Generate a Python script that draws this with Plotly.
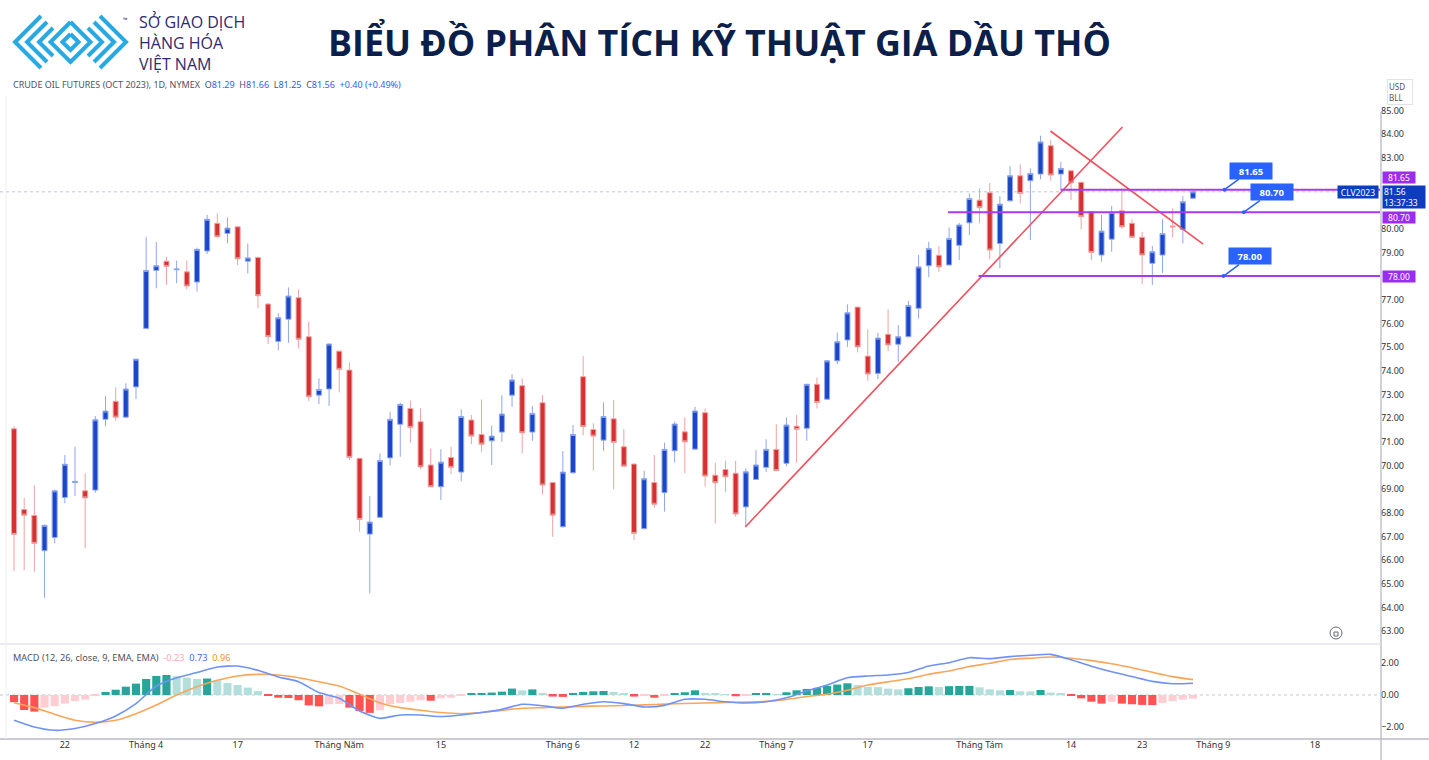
import plotly.graph_objects as go

W, H = 1429, 760

# ---------------- data ----------------
opens = [71.55, 68.14, 67.89, 66.40, 66.96, 68.65, 69.28, 68.93, 68.96, 71.95,
         72.71, 72.04, 73.32, 75.79, 78.24, 78.63, 78.27, 78.18, 77.75, 79.06,
         80.23, 79.80, 80.08, 78.63, 78.79, 76.82, 75.24, 76.18, 77.09, 75.44,
         72.97, 73.23, 74.83, 74.03, 70.30, 67.10, 67.81, 70.32, 71.74, 72.41,
         71.85, 70.02, 69.10, 70.34, 69.72, 71.92, 71.31, 71.04, 71.41, 72.97,
         73.37, 71.41, 72.65, 69.28, 67.41, 69.69, 73.75, 71.52, 71.07, 71.97,
         70.79, 70.06, 67.33, 69.28, 68.85, 70.62, 71.42, 70.69, 72.23, 69.59,
         69.83, 69.67, 68.25, 69.41, 69.92, 70.68, 70.09, 71.66, 71.57, 73.43,
         72.80, 74.42, 75.30, 76.69, 74.62, 73.89, 75.54, 75.12, 75.44, 76.64,
         78.44, 78.88, 78.47, 79.30, 80.25, 81.21, 81.52, 79.38, 81.18, 82.24,
         82.03, 82.31, 83.51, 82.31, 82.45, 81.96, 80.72, 78.89, 79.56, 80.76,
         80.23, 79.64, 78.54, 78.89, 80.12, 79.97, 81.29]
highs = [71.66, 68.63, 69.17, 67.50, 68.98, 70.44, 70.79, 69.67, 72.09, 72.93,
         73.30, 73.47, 74.50, 79.66, 79.44, 78.82, 78.66, 78.66, 79.20, 80.59,
         80.65, 80.48, 80.10, 79.38, 78.82, 76.85, 76.43, 77.52, 77.44, 76.07,
         73.68, 75.16, 74.85, 74.35, 70.32, 68.71, 70.51, 72.27, 72.65, 72.73,
         72.41, 70.72, 70.68, 70.79, 72.37, 72.14, 72.79, 71.69, 72.97, 73.86,
         73.68, 72.51, 72.97, 69.30, 70.61, 71.71, 74.62, 71.78, 72.67, 72.76,
         71.54, 70.08, 69.78, 70.44, 70.96, 71.86, 72.03, 72.48, 72.41, 70.11,
         70.20, 70.20, 69.88, 70.65, 71.10, 71.75, 72.03, 72.13, 73.45, 73.72,
         74.45, 75.61, 76.81, 76.70, 75.75, 75.61, 76.59, 75.93, 76.96, 78.89,
         79.45, 79.27, 80.06, 80.25, 81.49, 81.71, 81.94, 81.38, 82.65, 82.72,
         82.55, 83.93, 83.75, 82.83, 82.47, 82.00, 80.75, 80.58, 80.96, 81.71,
         80.40, 79.87, 79.27, 80.40, 80.86, 81.38, 81.66]
lows = [65.54, 65.58, 65.51, 64.41, 66.71, 68.40, 68.71, 66.50, 68.85, 71.66,
        71.89, 72.00, 72.80, 75.75, 77.49, 77.63, 77.70, 77.44, 77.34, 78.93,
        79.64, 79.38, 78.47, 78.11, 76.64, 75.13, 74.87, 75.18, 74.95, 72.72,
        72.59, 72.51, 73.09, 70.23, 67.20, 64.60, 67.78, 70.00, 70.37, 70.96,
        69.83, 69.08, 68.54, 69.64, 69.33, 70.90, 70.57, 70.02, 71.00, 72.48,
        70.51, 71.04, 68.79, 66.99, 67.38, 69.65, 71.27, 69.78, 70.62, 69.00,
        69.95, 66.85, 67.30, 68.21, 68.05, 70.13, 69.67, 70.67, 69.10, 67.55,
        68.89, 67.84, 67.41, 69.40, 69.73, 69.77, 69.97, 70.11, 71.04, 72.41,
        72.76, 74.28, 75.01, 74.78, 73.58, 73.64, 74.83, 74.38, 75.42, 76.20,
        77.95, 78.18, 78.45, 78.68, 79.73, 80.23, 78.71, 78.33, 81.15, 81.07,
        79.52, 82.09, 82.03, 81.63, 81.21, 79.97, 78.68, 78.61, 79.03, 80.00,
        79.60, 77.66, 77.62, 78.14, 79.64, 79.38, 81.25]
closes = [67.09, 67.90, 66.71, 67.47, 68.93, 70.05, 69.33, 68.63, 71.93, 72.30,
          72.04, 73.23, 74.49, 78.24, 78.44, 78.41, 78.30, 77.58, 79.13, 80.40,
          79.66, 80.03, 78.73, 78.77, 77.17, 75.44, 76.24, 77.16, 75.33, 72.90,
          73.21, 75.13, 74.06, 70.34, 67.72, 67.61, 70.21, 71.95, 72.58, 71.61,
          69.94, 69.10, 70.14, 69.92, 72.07, 71.24, 70.90, 71.24, 72.17, 73.61,
          71.38, 72.20, 69.17, 67.90, 69.72, 71.31, 71.64, 71.24, 72.07, 70.97,
          69.97, 67.13, 69.44, 68.36, 70.68, 71.75, 71.00, 72.30, 69.55, 69.27,
          69.52, 67.95, 69.73, 70.02, 70.68, 69.78, 71.71, 71.52, 73.43, 72.66,
          74.42, 75.23, 76.45, 75.01, 73.86, 75.38, 75.09, 75.44, 76.76, 78.39,
          79.17, 78.39, 79.59, 80.16, 81.28, 80.89, 79.10, 81.04, 82.24, 81.49,
          82.34, 83.67, 82.27, 82.55, 81.94, 80.51, 79.00, 79.90, 80.69, 80.08,
          79.64, 78.89, 79.03, 79.80, 80.08, 81.14, 81.56]

bar_index = list(range(len(closes)))

tick_idx = [5, 13, 22, 32, 42, 54, 61, 68, 75, 84, 95, 104, 111, 118, 128]
tick_lbl = ["22", "Tháng 4", "17", "Tháng Năm", "15", "Tháng 6", "12", "22",
            "Tháng 7", "17", "Tháng Tám", "14", "23", "Tháng 9", "18"]

macd_hist = [-0.45, -0.94, -1.04, -0.79, -0.69, -0.54, -0.38, -0.29, -0.05,
             0.19, 0.33, 0.52, 0.71, 1.00, 1.19, 1.25, 1.17, 1.08, 1.00, 1.03,
             0.92, 0.75, 0.62, 0.46, 0.25,
             -0.05, -0.17, -0.19, -0.33, -0.65, -0.71, -0.58, -0.56, -0.79, -1.00,
             -1.12, -0.96, -0.58, -0.50, -0.42, -0.33, -0.36, -0.21, -0.17, -0.06,
             0.08, 0.10, 0.15, 0.21, 0.40, 0.29, 0.35, 0.12, -0.10, -0.12, 0.08,
             0.19, 0.23,
             0.25, 0.19, 0.10, -0.10, -0.05, -0.17, -0.03, 0.12, 0.17, 0.29, 0.12,
             0.08, 0.06, -0.08, -0.04,
             0.08, 0.10, 0.06, 0.17, 0.29, 0.38, 0.44, 0.56, 0.65, 0.73,
             0.62, 0.50, 0.49, 0.40, 0.35,
             0.42, 0.50, 0.54,
             0.50, 0.55, 0.56, 0.57,
             0.48, 0.35, 0.29, 0.31, 0.23, 0.22, 0.31, 0.15, 0.08,
             -0.04, -0.21, -0.42, -0.54, -0.42, -0.54, -0.58, -0.62, -0.63, -0.50,
             -0.38, -0.29, -0.23]

line_idx = list(range(0, 117, 2))
macd_line = [-1.58, -2.00, -2.21, -2.10, -1.79, -1.31, -0.54, 0.56, 1.08, 1.40,
             1.75, 1.81, 1.54, 1.13, 0.83, 0.15, -0.21, -1.00, -1.46, -1.25,
             -1.25, -1.35, -1.25, -1.10, -0.90, -0.58, -0.67, -0.83, -0.58, -0.42,
             -0.54, -0.75, -0.65, -0.27, -0.27, -0.42, -0.50, -0.42, -0.17, 0.25,
             0.63, 1.08, 1.19, 1.25, 1.40, 1.81, 2.02, 2.33, 2.27, 2.40,
             2.48, 2.54, 2.20, 1.80, 1.45, 1.15, 0.85, 0.70, 0.73]
signal_line = [-0.48, -0.79, -1.21, -1.58, -1.71, -1.58, -1.17, -0.63, 0.00, 0.52,
               0.92, 1.19, 1.29, 1.25, 1.08, 0.83, 0.56, 0.04, -0.50, -0.79,
               -0.96, -1.10, -1.17, -1.10, -0.96, -0.83, -0.79, -0.75, -0.71, -0.69,
               -0.66, -0.62, -0.57, -0.53, -0.50, -0.46, -0.44, -0.40, -0.28, -0.10,
               0.05, 0.30, 0.62, 0.82, 1.02, 1.30, 1.50, 1.78, 1.98, 2.22,
               2.30, 2.37, 2.30, 2.15, 1.95, 1.70, 1.42, 1.15, 0.96]

levels = [81.65, 80.70, 78.00]
level_start = [103.0, 91.9, 94.9]
level_labels = ["81.65", "80.70", "78.00"]
callout_idx = [119.1, 121.0, 119.0]
trend_up_x, trend_up_y = [71.95, 109.06], [67.4, 84.3]
trend_dn_x, trend_dn_y = [101.97, 117.0], [84.13, 79.35]
last_price = 81.56
covered_ticks = [78, 81, 82]          # hidden behind price tags in the reference
price_ticks = [v for v in range(63, 86) if v not in covered_ticks]
macd_ticks = [-2, 0, 2]

# ---------------- layout helpers ----------------
XMIN, XMAX = -1.38, 134.4
PRICE_RANGE = [62.5, 85.44]
MACD_RANGE = [-2.69, 3.125]
AXIS_X = 1380


def px(x):
    return x / W


def py(y):
    return 1 - y / H


UP_FILL, UP_LINE = "#1b46c8", "#8fa7ec"
DN_FILL, DN_LINE = "#d63031", "#efa2a2"
PURPLE = "#a83af2"
PURPLE_BOX = "#9c2cef"
BLUE_BOX = "#2962ff"
NAVY_BOX = "#0e3cbf"
AXFONT = dict(family="Noto Sans", size=9, color="#333333")

fig = go.Figure()

fig.add_trace(go.Candlestick(
    x=bar_index, open=opens, high=highs, low=lows, close=closes,
    increasing=dict(line=dict(color=UP_LINE, width=1), fillcolor=UP_FILL),
    decreasing=dict(line=dict(color=DN_LINE, width=1), fillcolor=DN_FILL),
    whiskerwidth=0, xaxis="x", yaxis="y", showlegend=False, hoverinfo="skip"))

fig.add_trace(go.Scatter(x=trend_up_x, y=trend_up_y, mode="lines",
                         line=dict(color="#f0505c", width=1.6),
                         xaxis="x", yaxis="y", showlegend=False, hoverinfo="skip"))
fig.add_trace(go.Scatter(x=trend_dn_x, y=trend_dn_y, mode="lines",
                         line=dict(color="#f0505c", width=1.6),
                         xaxis="x", yaxis="y", showlegend=False, hoverinfo="skip"))
for lv, st in zip(levels, level_start):
    fig.add_trace(go.Scatter(x=[st, XMAX], y=[lv, lv], mode="lines",
                             line=dict(color=PURPLE, width=2),
                             xaxis="x", yaxis="y", showlegend=False, hoverinfo="skip"))
fig.add_trace(go.Scatter(x=callout_idx, y=levels, mode="markers",
                         marker=dict(color=BLUE_BOX, size=4),
                         xaxis="x", yaxis="y", showlegend=False, hoverinfo="skip"))

hist_colors = []
prev = 0.0
for h in macd_hist:
    if h >= 0:
        hist_colors.append("#26a69a" if h > prev else "#b2dfdb")
    else:
        hist_colors.append("#ffcdd2" if h > prev else "#ff5252")
    prev = h

fig.add_trace(go.Bar(x=bar_index, y=macd_hist, marker=dict(color=hist_colors, line=dict(width=0)),
                     width=0.8, xaxis="x2", yaxis="y2", showlegend=False, hoverinfo="skip"))
fig.add_trace(go.Scatter(x=line_idx, y=signal_line, mode="lines",
                         line=dict(color="#f9a65a", width=1.6, shape="spline", smoothing=0.6),
                         xaxis="x2", yaxis="y2", showlegend=False, hoverinfo="skip"))
fig.add_trace(go.Scatter(x=line_idx, y=macd_line, mode="lines",
                         line=dict(color="#6f92f6", width=1.6, shape="spline", smoothing=0.6),
                         xaxis="x2", yaxis="y2", showlegend=False, hoverinfo="skip"))

shapes = []
shapes.append(dict(type="line", xref="x", yref="y", x0=XMIN, x1=XMAX, y0=last_price, y1=last_price,
                   line=dict(color="#b3c4f0", width=1, dash="dot"), layer="below"))
shapes.append(dict(type="line", xref="x2", yref="y2", x0=XMIN, x1=XMAX, y0=0, y1=0,
                   line=dict(color="#c4c7ce", width=1, dash="dot"), layer="below"))
shapes.append(dict(type="line", xref="paper", yref="paper", x0=px(AXIS_X + 1), x1=px(AXIS_X + 1),
                   y0=py(112), y1=py(760), line=dict(color="#b2b5be", width=1.2)))
shapes.append(dict(type="line", xref="paper", yref="paper", x0=0, x1=px(AXIS_X + 1),
                   y0=py(644), y1=py(644), line=dict(color="#e3e5ea", width=1.5)))
shapes.append(dict(type="line", xref="paper", yref="paper", x0=0, x1=1,
                   y0=py(739), y1=py(739), line=dict(color="#b8bbc3", width=1.5)))
shapes.append(dict(type="line", xref="paper", yref="paper", x0=px(6), x1=px(6),
                   y0=py(96), y1=py(739), line=dict(color="#eeeff2", width=1)))
shapes.append(dict(type="circle", xref="paper", yref="paper", x0=px(1330), x1=px(1342),
                   y0=py(639), y1=py(627), line=dict(color="#6a6d78", width=1)))
shapes.append(dict(type="rect", xref="paper", yref="paper", x0=px(1334), x1=px(1338),
                   y0=py(636), y1=py(632), line=dict(color="#6a6d78", width=1)))

LOGO = "#29a9e1"


def poly(points, width=4):
    d = "M " + " L ".join(f"{px(a):.5f},{py(b):.5f}" for a, b in points)
    return dict(type="path", xref="paper", yref="paper", path=d,
                line=dict(color=LOGO, width=width))


cy = 42
for vx, arm in [(15, 26), (27, 20), (39, 14)]:
    shapes.append(poly([(vx + arm, cy - arm), (vx, cy), (vx + arm, cy + arm)]))
for vx, arm in [(126, 26), (114, 20), (102, 14)]:
    shapes.append(poly([(vx - arm, cy - arm), (vx, cy), (vx - arm, cy + arm)]))
shapes.append(poly([(70.5, cy - 20), (90.5, cy), (70.5, cy + 20), (50.5, cy), (70.5, cy - 20)]))
shapes.append(poly([(70.5, cy - 8), (78.5, cy), (70.5, cy + 8), (62.5, cy), (70.5, cy - 8)]))

annotations = []


def ann(text, x, y, size=9, color="#333333", xanchor="left", family="Noto Sans", **kw):
    d = dict(text=text, x=px(x), y=py(y), xref="paper", yref="paper", showarrow=False,
             xanchor=xanchor, yanchor="middle", font=dict(family=family, size=size, color=color))
    d.update(kw)
    annotations.append(d)


ann("<b>BIỂU ĐỒ PHÂN TÍCH KỸ THUẬT GIÁ DẦU THÔ</b>", 719, 42, size=35.8, color="#0c1f4a",
    xanchor="center", family="Open Sans")
ann("SỞ GIAO DỊCH<br>HÀNG HÓA<br>VIỆT NAM", 137, 42.5, size=16, color="#2e2a6e",
    family="Open Sans", align="left")
ann("™", 121, 20, size=6, color="#2e2a6e")

G, B = "#50535e", "#2962ff"
hdr = (f"<span style='color:{G}'>CRUDE OIL FUTURES (OCT 2023), 1D, NYMEX</span>&nbsp; "
       f"<span style='color:{G}'>O</span><span style='color:{B}'>{opens[-1]:.2f}</span>&nbsp; "
       f"<span style='color:{G}'>H</span><span style='color:{B}'>{highs[-1]:.2f}</span>&nbsp; "
       f"<span style='color:{G}'>L</span><span style='color:{B}'>{lows[-1]:.2f}</span>&nbsp; "
       f"<span style='color:{G}'>C</span><span style='color:{B}'>{closes[-1]:.2f}</span>&nbsp; "
       f"<span style='color:{B}'>+0.40 (+0.49%)</span>")
ann(hdr, 11, 84, size=9)
mhdr = (f"<span style='color:{G}'>MACD (12, 26, close, 9, EMA, EMA)</span>&nbsp; "
        f"<span style='color:#f7a9b4'>{macd_hist[-1]:.2f}</span>&nbsp; "
        f"<span style='color:#3d6ef5'>{macd_line[-1]:.2f}</span>&nbsp; "
        f"<span style='color:#f5902e'>{signal_line[-1]:.2f}</span>")
ann(mhdr, 11, 657, size=9.2)

ann("USD<br>BLL", 1387, 92, size=8, color="#555555", bgcolor="#ffffff",
    bordercolor="#e0e3eb", borderwidth=1, width=22, height=22, align="left")

offsets = [(26, -19), (28, -20), (27, -20)]
for lv, ci, lab, (ox, oy) in zip(levels, callout_idx, level_labels, offsets):
    annotations.append(dict(text=f"<b>{lab}</b>", x=ci, y=lv, xref="x", yref="y",
                            showarrow=True, ax=ox, ay=oy, axref="pixel", ayref="pixel",
                            arrowhead=0, arrowwidth=1.5, arrowcolor=BLUE_BOX, standoff=0,
                            bgcolor=BLUE_BOX, font=dict(family="Noto Sans", size=9.5, color="white"),
                            width=38, height=12, borderpad=2))

tag_shift = [12.5, -5.5, 0]
for lv, lab, sh in zip(levels, level_labels, tag_shift):
    annotations.append(dict(text=lab, x=px(AXIS_X + 2), y=lv, xref="paper", yref="y",
                            yshift=sh, showarrow=False, xanchor="left", yanchor="middle",
                            bgcolor=PURPLE_BOX, font=dict(family="Noto Sans", size=8.5, color="white"),
                            width=30, height=9, borderpad=1))
annotations.append(dict(text=f"{last_price:.2f}<br>13:37:33", x=px(AXIS_X + 2), y=last_price,
                        xref="paper", yref="y", yshift=-4.7, showarrow=False, xanchor="left",
                        yanchor="middle", align="left", bgcolor=NAVY_BOX,
                        font=dict(family="Noto Sans", size=8.5, color="white"),
                        width=40, height=20, borderpad=1))
annotations.append(dict(text="CLV2023", x=px(AXIS_X - 1), y=last_price, xref="paper", yref="y",
                        showarrow=False, xanchor="right", yanchor="middle", bgcolor=NAVY_BOX,
                        font=dict(family="Noto Sans", size=8.5, color="white"),
                        width=38, height=10, borderpad=1))

fig.update_layout(
    width=W, height=H, margin=dict(l=0, r=0, t=0, b=0),
    paper_bgcolor="white", plot_bgcolor="white", showlegend=False, bargap=0.2,
    xaxis=dict(domain=[0, px(AXIS_X)], range=[XMIN, XMAX], anchor="y",
               showticklabels=False, showgrid=False, zeroline=False, showline=False,
               rangeslider=dict(visible=False), fixedrange=True),
    yaxis=dict(domain=[py(643), py(100)], range=PRICE_RANGE, side="right", anchor="x",
               tickvals=price_ticks, ticktext=[f"{v:.2f}" for v in price_ticks],
               tickfont=AXFONT, showgrid=False, zeroline=False, showline=False, ticks=""),
    xaxis2=dict(domain=[0, px(AXIS_X)], range=[XMIN, XMAX], anchor="y2", matches="x",
                tickvals=tick_idx, ticktext=tick_lbl, tickfont=AXFONT,
                showgrid=False, zeroline=False, showline=False, ticks=""),
    yaxis2=dict(domain=[py(738), py(645)], range=MACD_RANGE, side="right", anchor="x2",
                tickvals=macd_ticks, ticktext=[f"{v:.2f}".replace("-", "\u2212") for v in macd_ticks],
                tickfont=AXFONT, showgrid=False, zeroline=False, showline=False, ticks=""),
    shapes=shapes, annotations=annotations,
)

fig.write_html("out.html", config={"displayModeBar": False},
               post_script="document.body.style.margin='0px';document.body.style.overflow='hidden';")
